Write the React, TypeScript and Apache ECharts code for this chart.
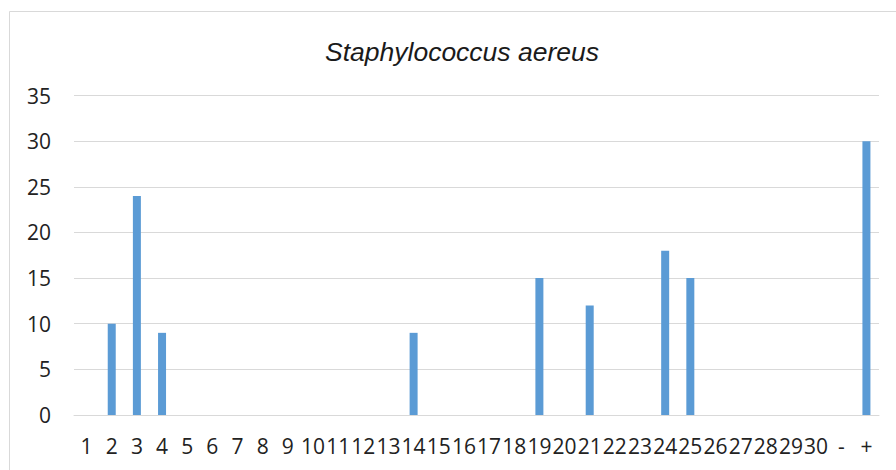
import React, { useEffect, useRef } from "react";
import * as echarts from "echarts";

const categories: string[] = [
  "1", "2", "3", "4", "5", "6", "7", "8", "9", "10",
  "11", "12", "13", "14", "15", "16", "17", "18", "19", "20",
  "21", "22", "23", "24", "25", "26", "27", "28", "29", "30",
  "-", "+",
];
const values: number[] = [
  0, 10, 24, 9, 0, 0, 0, 0, 0, 0,
  0, 0, 0, 9, 0, 0, 0, 0, 15, 0,
  12, 0, 0, 18, 15, 0, 0, 0, 0, 0,
  0, 30,
];
const titleText = "Staphylococcus aereus";

export default function App() {
  const ref = useRef<HTMLDivElement>(null);
  useEffect(() => {
    document.body.style.margin = "0";
    if (!ref.current) return;
    const chart = echarts.init(ref.current, null, { renderer: "svg" });
    chart.setOption({
      animation: false,
      backgroundColor: "#ffffff",
      title: {
        text: titleText,
        left: 457,
        top: 33,
        textAlign: "center",
        textStyle: {
          fontFamily: "Liberation Sans",
          fontStyle: "italic",
          fontWeight: "normal",
          fontSize: 26.5,
          color: "#1a1a1a",
        },
      },
      graphic: [
        {
          type: "rect",
          shape: { x: 9.5, y: 11.5, width: 1000, height: 1000 },
          style: { fill: "none", stroke: "#d9d9d9", lineWidth: 1 },
          silent: true,
          z: -1,
        },
      ],
      grid: { left: 74, right: 17, top: 95.5, bottom: 55 },
      xAxis: {
        type: "category",
        data: categories,
        axisLine: { show: true, lineStyle: { color: "#d9d9d9", width: 1 } },
        axisTick: { show: false },
        axisLabel: {
          interval: 0,
          margin: 20,
          fontFamily: "Open Sans",
          fontSize: 21,
          color: "#222",
        },
      },
      yAxis: {
        type: "value",
        min: 0,
        max: 35,
        interval: 5,
        axisLine: { show: false },
        axisTick: { show: false },
        splitLine: { lineStyle: { color: "#d9d9d9", width: 1 } },
        axisLabel: {
          margin: 23,
          fontFamily: "Open Sans",
          fontSize: 21,
          color: "#222",
        },
      },
      series: [
        {
          type: "bar",
          data: values,
          barWidth: 8,
          itemStyle: { color: "#5B9BD5" },
        },
      ],
    });
    return () => chart.dispose();
  }, []);
  return <div ref={ref} style={{ width: 896, height: 470 }} />;
}
